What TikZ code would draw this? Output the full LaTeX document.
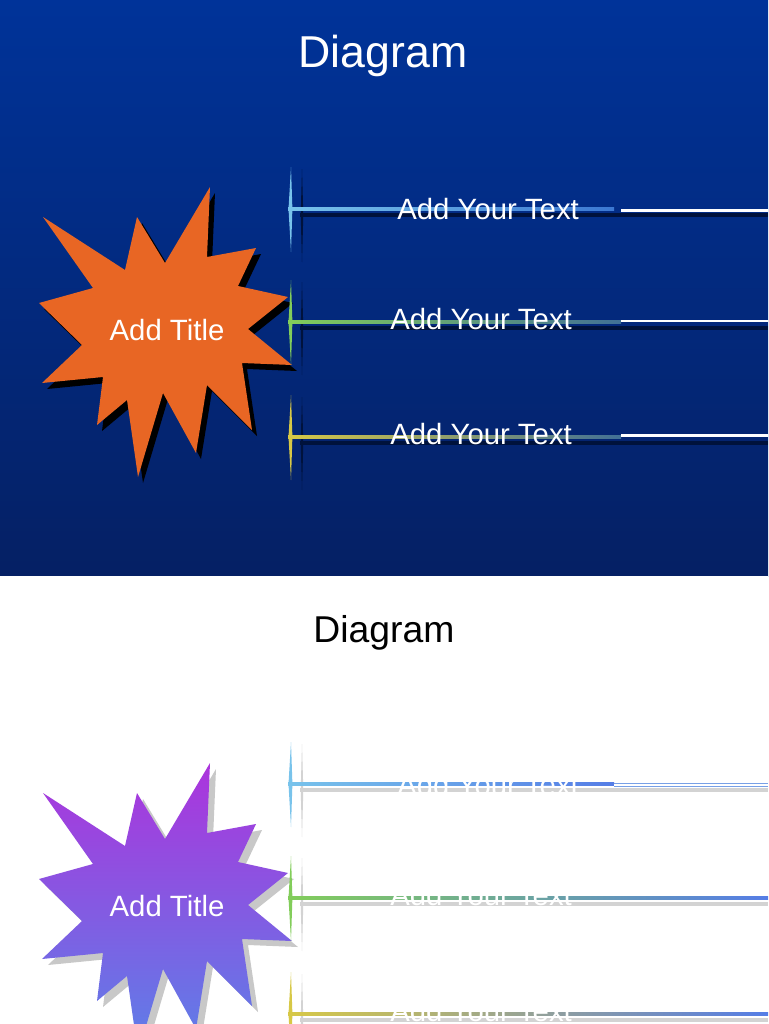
\documentclass[tikz,border=0pt]{standalone}
\usepackage{fontspec}
\setmainfont{Liberation Sans}
\definecolor{bgtop}{RGB}{0,51,153}
\definecolor{bgbot}{RGB}{5,32,100}
\definecolor{starorange}{RGB}{232,102,36}
\definecolor{shadowdark}{RGB}{0,18,60}
\definecolor{shadowgray}{RGB}{200,200,200}
\definecolor{lblue}{RGB}{120,195,235}
\definecolor{mblue}{RGB}{60,120,210}
\definecolor{lgreen}{RGB}{130,205,90}
\definecolor{lyellow}{RGB}{215,200,70}
\definecolor{tealend}{RGB}{65,112,150}
\definecolor{endblue}{RGB}{85,125,230}
\definecolor{outblue}{RGB}{120,160,230}
\definecolor{purtop}{RGB}{172,52,220}
\definecolor{purbot}{RGB}{92,128,232}
\newcommand\burstpath[1]{\path[#1] (43,217) -- (125,270) -- (137,217) -- (165,263) -- (210,187) -- (207,257) -- (256,248) -- (238,286) -- (288,297) -- (248,329) -- (292,365) -- (242,363) -- (252,430) -- (207,385) -- (196,453) -- (163,393) -- (138,477) -- (127,400) -- (97,425) -- (103,377) -- (42,383) -- (82,345) -- (39,303) -- (93,288) -- cycle;}
% #1 y of line, #2 colour, #3 shadow colour
\newcommand\spindle[3]{%
  \fill[#3] (302,#1-40) -- (303.3,#1+6) -- (302,#1+53) -- (300.7,#1+6) -- cycle;
  \fill[#3] (300,#1+4) rectangle (768,#1+8);
  \fill[#2] (291,#1-42) -- (292.4,#1) -- (291,#1+43) -- (288.5,#1) -- cycle;}
\begin{document}
\begin{tikzpicture}[x=0.75pt,y=-0.75pt,
  lbl/.style={text=white,font=\fontsize{22}{26}\selectfont,inner sep=0pt,anchor=base west},
  ttl/.style={font=\fontsize{22}{26}\selectfont,text=white,inner sep=0pt,anchor=base}]
\useasboundingbox (0,0) rectangle (768,1024);
% ---------- top slide ----------
\shade[top color=bgtop,bottom color=bgbot] (0,0) rectangle (768,576);
\fill[white] (0,576) rectangle (768,1024);
\node[anchor=base,inner sep=0pt,text=white,font=\fontsize{33.5}{40}\selectfont] (t1) at (383,68) {Diagram};
\burstpath{fill=black,shift={(5,6)}}
\burstpath{fill=starorange}
\node[ttl] (s1) at (167,340) {Add Title};
% line 1
\spindle{209}{lblue}{shadowdark}
\shade[left color=lblue,right color=mblue] (288,207.5) rectangle (614,210.8);
\fill[white] (621,209.3) rectangle (768,211.7);
\node[lbl] (a1) at (397,219) {Add Your Text};
% line 2
\spindle{322}{lgreen}{shadowdark}
\shade[left color=lgreen,right color=tealend] (288,320.5) rectangle (621,323.8);
\fill[white] (621,319.5) rectangle (768,322);
\node[lbl] (a2) at (390,329) {Add Your Text};
% line 3
\spindle{437}{lyellow}{shadowdark}
\shade[left color=lyellow,right color=tealend] (288,435.5) rectangle (621,438.8);
\fill[white] (621,434.3) rectangle (768,436.8);
\node[lbl] (a3) at (390,444) {Add Your Text};
% ---------- bottom slide ----------
\node[anchor=base,inner sep=0pt,text=black,font=\fontsize{28}{34}\selectfont] (t2) at (384,642) {Diagram};
\burstpath{fill=shadowgray,shift={(6,582)}}
\burstpath{top color=purtop,bottom color=purbot,shift={(0,576)}}
\node[ttl] (s2) at (167,916) {Add Title};
% line 1
\spindle{784}{lblue}{shadowgray!80}
\shade[left color=lblue,right color=endblue] (288,782.5) rectangle (614,785.8);
\fill[outblue] (614,782.5) rectangle (768,787);
\fill[white] (614,783.6) rectangle (768,785.9);
\node[lbl] (b1) at (397,795) {Add Your Text};
% line 2
\spindle{898}{lgreen}{shadowgray!80}
\shade[left color=lgreen,right color=endblue] (288,896.5) rectangle (768,899.8);
\node[lbl] (b2) at (390,905) {Add Your Text};
% line 3
\spindle{1014}{lyellow}{shadowgray!80}
\shade[left color=lyellow,right color=endblue] (288,1012.5) rectangle (768,1015.8);
\node[lbl] (b3) at (390,1021) {Add Your Text};
\end{tikzpicture}
\end{document}
